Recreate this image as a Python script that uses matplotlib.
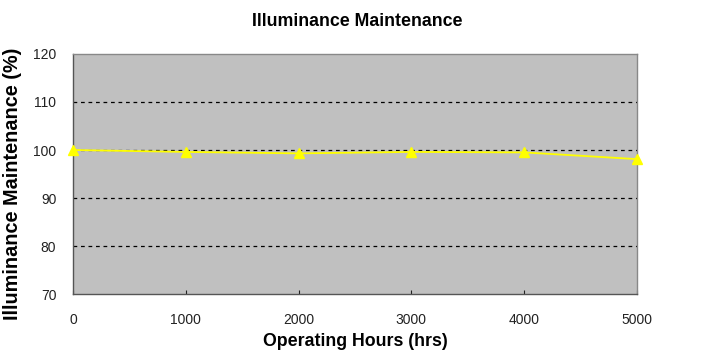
import matplotlib
matplotlib.use("Agg")
import matplotlib.pyplot as plt
from matplotlib import font_manager

hours = [0, 1000, 2000, 3000, 4000, 5000]
maintenance = [100.0, 99.6, 99.3, 99.6, 99.5, 98.1]
y_ticks = [70, 80, 90, 100, 110, 120]

names = {f.name for f in font_manager.fontManager.ttflist}
narrow = 'Liberation Sans Narrow' if 'Liberation Sans Narrow' in names else 'Liberation Sans'
plt.rcParams['font.family'] = ['Liberation Sans', 'DejaVu Sans']

fig = plt.figure(figsize=(7.14, 3.59), dpi=100)
ax = fig.add_axes([0.1022, 0.181, 0.7899, 0.6686])
ax.set_facecolor('#c0c0c0')

for y in y_ticks[1:-1]:
    ax.axhline(y, color='black', ls=(0, (3, 3)), lw=0.9, zorder=1)

ax.plot(hours, maintenance, color='#ffff00', lw=1.3, marker='^', ms=6.5,
        clip_on=False, zorder=3)

ax.set_xlim(0, 5000)
ax.set_ylim(70, 120)
ax.set_xticks(hours)
ax.set_yticks(y_ticks)
ax.tick_params(axis='both', direction='in', length=3, labelsize=10, colors='#222222')
ax.tick_params(axis='x', pad=14)
ax.tick_params(axis='y', pad=12, length=0)
for s in ax.spines.values():
    s.set_color('#555555')
    s.set_linewidth(1)
ax.spines['right'].set_color('#888888')
ax.spines['top'].set_color('#888888')

ax.set_xlabel('Operating Hours (hrs)', fontsize=12.8, fontweight='bold', family=narrow, labelpad=4)
ax.set_ylabel('Illuminance Maintenance (%)', fontsize=14.3, fontweight='bold', family=narrow)
ax.yaxis.set_label_coords(-0.09, 0.46)
fig.text(0.5, 0.94, 'Illuminance Maintenance', ha='center', va='center',
         fontsize=12.8, fontweight='bold', family=narrow)

fig.savefig('out.png', dpi=100)
